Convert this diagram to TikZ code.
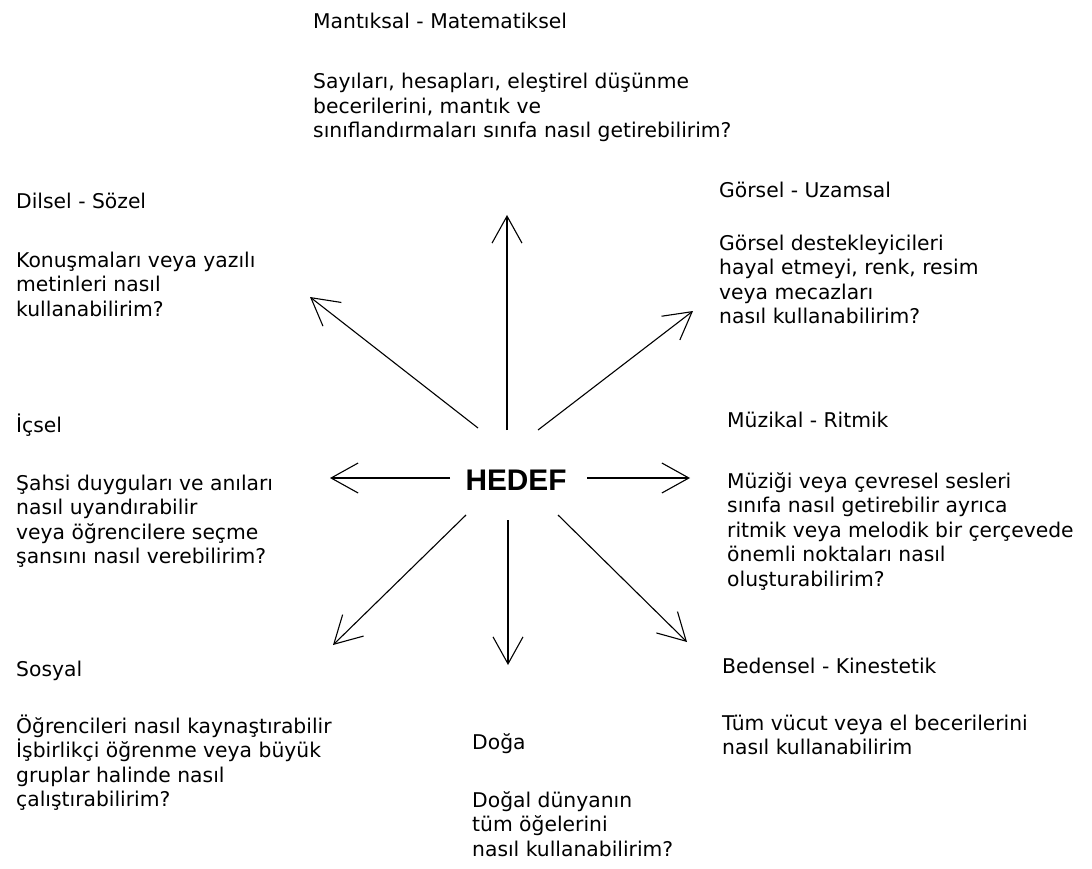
\documentclass[tikz,border=0pt]{standalone}
\usepackage{fontspec}
\setmainfont{DejaVu Sans}
\newfontfamily\hedeffont{Liberation Sans}
\usetikzlibrary{arrows.meta}
\newcommand\txtblock[1]{\vtop{\baselineskip=24.5pt\lineskiplimit=-10pt\halign{##\hfil\cr#1\crcr}}}
\begin{document}
\begin{tikzpicture}[x=1pt,y=-1pt,
  lbl/.style={anchor=base west,inner sep=0pt,font=\fontsize{20.3}{24.5}\selectfont},
  ray/.style={line width=1.1pt,-{Straight Barb[length=27pt,width=30pt,line width=1.1pt]}},
  goal/.style={inner sep=0pt,font=\hedeffont\bfseries\fontsize{29.8}{30}\selectfont}]
\useasboundingbox[fill=white] (0,0) rectangle (1092,869);
\node[goal] (hedef) at (516,480) {HEDEF};
% arrow ends
\coordinate (su) at (507,430);  \coordinate (tu) at (507,215);
\coordinate (sul) at (478,428); \coordinate (tul) at (310,297);
\coordinate (sur) at (538,430); \coordinate (tur) at (693,311);
\coordinate (sl) at (450,478);  \coordinate (tl) at (330,478);
\coordinate (sr) at (587,478);  \coordinate (tr) at (690,478);
\coordinate (sdl) at (466,515); \coordinate (tdl) at (333,645);
\coordinate (sd) at (508,520);  \coordinate (td) at (508,665);
\coordinate (sdr) at (558,515); \coordinate (tdr) at (687,642);
\draw[ray] (su) -- (tu);
\draw[ray] (sul) -- (tul);
\draw[ray] (sur) -- (tur);
\draw[ray] (sl) -- (tl);
\draw[ray] (sr) -- (tr);
\draw[ray] (sdl) -- (tdl);
\draw[ray] (sd) -- (td);
\draw[ray] (sdr) -- (tdr);
% texts
\node[lbl] (mt) at (313,29) {Mantıksal - Matematiksel};
\node[lbl] (mb) at (313,89) {\txtblock{Sayıları, hesapları, eleştirel düşünme\cr becerilerini, mantık ve\cr sınıflandırmaları sınıfa nasıl getirebilirim?}};
\node[lbl] (dt) at (16,208) {Dilsel - Sözel};
\node[lbl] (db) at (16,267) {\txtblock{Konuşmaları veya yazılı\cr metinleri nasıl\cr kullanabilirim?}};
\node[lbl] (gt) at (719,197) {Görsel - Uzamsal};
\node[lbl] (gb) at (719,250) {\txtblock{Görsel destekleyicileri\cr hayal etmeyi, renk, resim\cr veya mecazları\cr nasıl kullanabilirim?}};
\node[lbl] (it) at (16,432) {İçsel};
\node[lbl] (ib) at (16,490) {\txtblock{Şahsi duyguları ve anıları\cr nasıl uyandırabilir\cr veya öğrencilere seçme\cr şansını nasıl verebilirim?}};
\node[lbl] (zt) at (727,427) {Müzikal - Ritmik};
\node[lbl] (zb) at (727,488) {\txtblock{Müziği veya çevresel sesleri\cr sınıfa nasıl getirebilir ayrıca\cr ritmik veya melodik bir çerçevede\cr önemli noktaları nasıl\cr oluşturabilirim?}};
\node[lbl] (st) at (16,676) {Sosyal};
\node[lbl] (sb) at (16,733) {\txtblock{Öğrencileri nasıl kaynaştırabilir\cr İşbirlikçi öğrenme veya büyük\cr gruplar halinde nasıl\cr çalıştırabilirim?}};
\node[lbl] (bt) at (722,673) {Bedensel - Kinestetik};
\node[lbl] (bb) at (722,730) {\txtblock{Tüm vücut veya el becerilerini\cr nasıl kullanabilirim}};
\node[lbl] (nt) at (472,749) {Doğa};
\node[lbl] (nb) at (472,807) {\txtblock{Doğal dünyanın\cr tüm öğelerini\cr nasıl kullanabilirim?}};
\end{tikzpicture}
\end{document}
